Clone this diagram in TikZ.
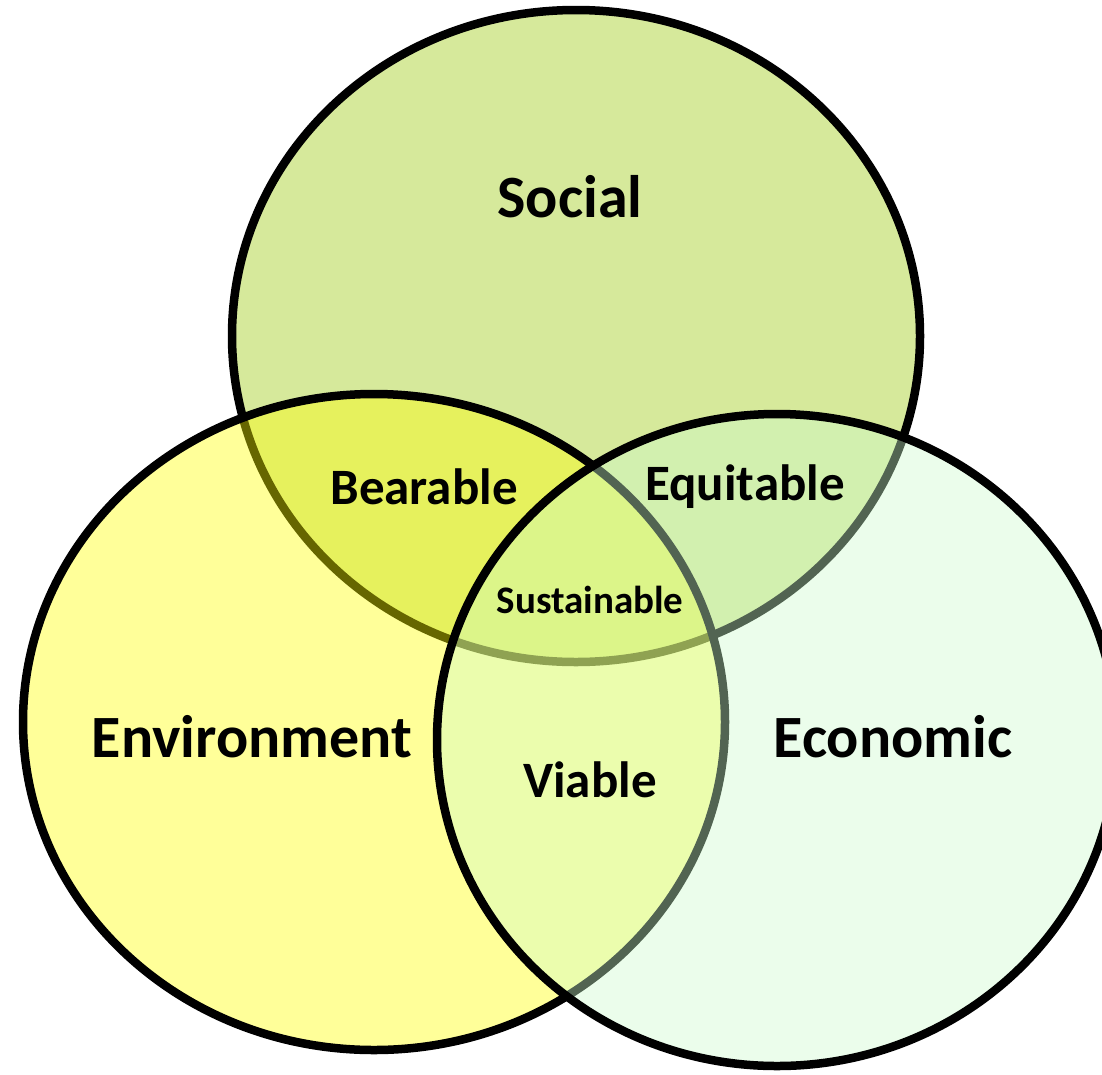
\documentclass[tikz,border=0pt]{standalone}
\usepackage{fontspec}
\setmainfont{Carlito}
\definecolor{socialfill}{RGB}{214,233,155}
\definecolor{envfill}{RGB}{255,255,0}
\definecolor{ecofill}{RGB}{205,252,205}
\begin{document}
\begin{tikzpicture}[x=1pt,y=-1pt,
  ring/.style={draw=black,line width=8.5pt},
  lbig/.style={font=\bfseries\fontsize{60}{62}\selectfont,inner sep=0pt},
  lmid/.style={font=\bfseries\fontsize{51}{53}\selectfont,inner sep=0pt},
  lsmall/.style={font=\bfseries\fontsize{39}{41}\selectfont,inner sep=0pt}]
\fill[white] (0,0) rectangle (1102,1074);
\clip (0,0) rectangle (1102,1074);
% Social
\path[ring,fill=socialfill] (576,336) ellipse [x radius=344pt, y radius=326pt];
% Environment
\path[ring,fill=envfill,fill opacity=0.4,draw opacity=1] (374,722) ellipse [x radius=351pt, y radius=328pt];
% Economic
\path[ring,fill=ecofill,fill opacity=0.4,draw opacity=1] (777,740) ellipse [x radius=340pt, y radius=326pt];
% labels
\node[lbig] (social) at (570,197) {Social};
\node[lbig] (env) at (252,737) {Environment};
\node[lbig] (eco) at (893,737) {Economic};
\node[lmid] (bear) at (424,487) {Bearable};
\node[lmid] (equi) at (745,487) {Equitable};
\node[lmid] (viab) at (590,780) {Viable};
\node[lsmall] (sust) at (590,600) {Sustainable};
\end{tikzpicture}
\end{document}
